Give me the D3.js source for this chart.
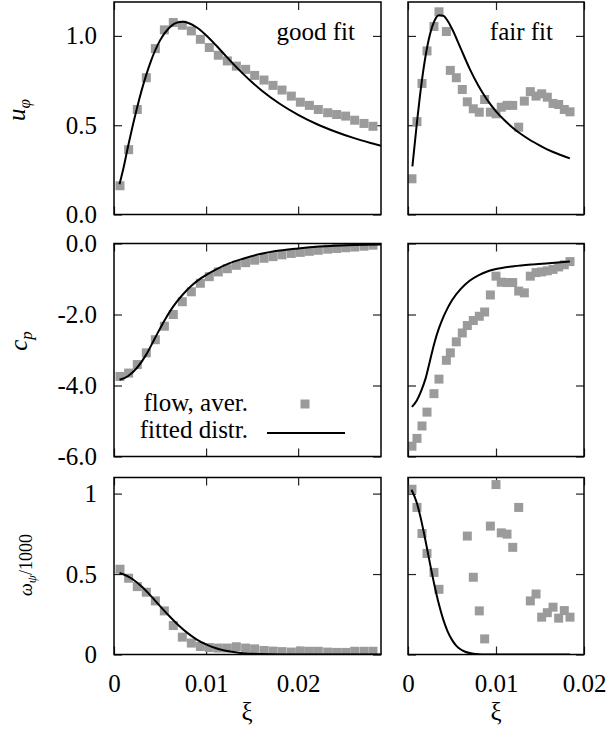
<!DOCTYPE html>
<html>
<head>
<meta charset="utf-8">
<script src="https://cdn.jsdelivr.net/npm/d3@7"></script>
</head>
<body style="margin:0; background:#fff">
<script>
// 점 데이터 x 좌표 (왼쪽 열 / 오른쪽 열)
var xi_left = [0.00065, 0.00159, 0.00253, 0.00351, 0.00449, 0.00547, 0.00644, 0.00742, 0.0084, 0.00938,
               0.01035, 0.01133, 0.01231, 0.01329, 0.0143, 0.01528, 0.01629, 0.01727, 0.01825, 0.01926,
               0.02024, 0.02122, 0.02219, 0.02321, 0.02418, 0.02516, 0.02614, 0.02715, 0.02813];
var xi_right = [0.00045, 0.00102, 0.00159, 0.00216, 0.00295, 0.00352, 0.00436, 0.00481, 0.00549, 0.00617,
                0.00674, 0.00742, 0.0081, 0.00871, 0.00936, 0.01, 0.0106, 0.01125, 0.0119, 0.01258,
                0.01322, 0.0139, 0.01455, 0.01519, 0.01583, 0.01648, 0.01712, 0.01776, 0.01841];

// u_phi
var good_u = [0.161, 0.363, 0.588, 0.766, 0.929, 1.034, 1.075, 1.06, 1.028, 0.981, 0.935, 0.892, 0.86, 0.831,
              0.813, 0.779, 0.753, 0.723, 0.697, 0.663, 0.629, 0.611, 0.588, 0.570, 0.560, 0.551, 0.528, 0.510, 0.494];
var fair_u = [0.20, 0.52, 0.734, 0.916, 1.053, 1.135, 1.025, 0.807, 0.766, 0.70, 0.631, 0.592, 0.573, 0.644,
              0.573, 0.564, 0.601, 0.611, 0.611, 0.489, 0.635, 0.688, 0.663, 0.676, 0.657, 0.622, 0.616, 0.588, 0.575];
var good_u_fit_x = [0.0006, 0.001, 0.0015, 0.002, 0.0025, 0.003, 0.004, 0.005, 0.006, 0.007, 0.0075, 0.008, 0.009,
                    0.010, 0.011, 0.012, 0.013, 0.014, 0.015, 0.016, 0.018, 0.020, 0.022, 0.024, 0.026, 0.028, 0.029];
var good_u_fit = [0.17, 0.253, 0.375, 0.49, 0.597, 0.695, 0.858, 0.975, 1.046, 1.077, 1.079, 1.074, 1.047,
                  1.004, 0.952, 0.896, 0.841, 0.789, 0.740, 0.696, 0.620, 0.558, 0.507, 0.465, 0.429, 0.399, 0.385];
var fair_u_fit_x = [0.0005, 0.001, 0.0015, 0.002, 0.0025, 0.003, 0.0035, 0.004, 0.0045, 0.005, 0.006, 0.007,
                    0.008, 0.009, 0.010, 0.011, 0.012, 0.013, 0.014, 0.015, 0.016, 0.017, 0.0184];
var fair_u_fit = [0.27, 0.507, 0.72, 0.889, 1.010, 1.084, 1.116, 1.113, 1.085, 1.040, 0.929, 0.817,
                  0.721, 0.642, 0.578, 0.526, 0.482, 0.445, 0.413, 0.386, 0.361, 0.340, 0.314];

// c_p
var good_cp = [-3.745, -3.65, -3.41, -3.08, -2.71, -2.33, -2.0, -1.64, -1.36, -1.12, -0.934, -0.80, -0.71, -0.614,
               -0.54, -0.47, -0.416, -0.37, -0.32, -0.28, -0.25, -0.22, -0.19, -0.16, -0.14, -0.12, -0.10, -0.076, -0.048];
var fair_cp = [-5.71, -5.49, -5.14, -4.75, -4.23, -3.82, -3.29, -3.08, -2.77, -2.52, -2.31, -2.17, -2.05, -1.93,
               -1.45, -0.92, -1.09, -1.10, -1.10, -1.34, -1.39, -0.92, -0.82, -0.80, -0.77, -0.73, -0.66, -0.60, -0.51];
var good_cp_fit_x = [0.0006, 0.0015, 0.0025, 0.0035, 0.0045, 0.0055, 0.0065, 0.0075, 0.0085, 0.0095, 0.011,
                     0.0125, 0.014, 0.016, 0.018, 0.020, 0.022, 0.024, 0.026, 0.029];
var good_cp_fit = [-3.84, -3.74, -3.5, -3.13, -2.64, -2.16, -1.75, -1.43, -1.17, -0.97, -0.74,
                   -0.56, -0.43, -0.29, -0.2, -0.14, -0.09, -0.065, -0.045, -0.025];
var fair_cp_fit_x = [0.00045, 0.001, 0.0015, 0.002, 0.0025, 0.003, 0.0035, 0.004, 0.0045, 0.005, 0.006, 0.007,
                     0.008, 0.009, 0.010, 0.012, 0.014, 0.016, 0.0184];
var fair_cp_fit = [-4.6, -4.42, -4.15, -3.8, -3.3, -2.8, -2.4, -2.08, -1.82, -1.6, -1.28, -1.05,
                   -0.9, -0.79, -0.72, -0.64, -0.59, -0.555, -0.51];

// omega_psi / 1000  (null = 그림 밖)
var good_w = [0.53, 0.474, 0.422, 0.387, 0.333, 0.271, 0.18, 0.108, 0.071, 0.05, 0.043, 0.04, 0.04, 0.048,
              0.04, 0.035, 0.025, 0.021, 0.018, 0.015, 0.022, 0.02, 0.02, 0.015, 0.013, 0.013, 0.02, 0.02, 0.02];
var fair_w = [1.027, 0.914, 0.752, 0.628, 0.51, 0.405, null, null, null, null, 0.736, 0.48, 0.271, 0.097,
              0.798, 1.056, 0.756, 0.748, 0.666, 0.914, null, 0.333, 0.376, 0.232, 0.26, 0.294, 0.226, 0.273, 0.232];
var good_w_fit_x = [0.0006, 0.001, 0.002, 0.003, 0.004, 0.005, 0.006, 0.007, 0.008, 0.009, 0.010, 0.011,
                    0.012, 0.013, 0.014, 0.015, 0.016, 0.018, 0.020, 0.024, 0.029];
var good_w_fit = [0.506, 0.499, 0.469, 0.422, 0.364, 0.301, 0.239, 0.182, 0.133, 0.093, 0.0625, 0.040,
                  0.025, 0.015, 0.008, 0.0045, 0.0024, 0.0006, 0.0001, 0, 0];
var fair_w_fit_x = [0.0004, 0.001, 0.0015, 0.002, 0.0025, 0.003, 0.0035, 0.004, 0.0045, 0.005, 0.0055, 0.006,
                    0.0065, 0.007, 0.008, 0.009, 0.010, 0.0184];
var fair_w_fit = [1.024, 0.943, 0.835, 0.704, 0.565, 0.432, 0.315, 0.218, 0.144, 0.091, 0.054, 0.031,
                  0.017, 0.009, 0.002, 0.0004, 0, 0];

var ticks_x = [0, 0.01, 0.02];
var ticks_u = [0, 0.5, 1.0];
var ticks_cp = [0, -2, -4, -6];
var ticks_w = [0, 0.5, 1];

var GRAY = "#9b9b9b";
var FONT = "Liberation Serif";
var svg = d3.select("body").append("svg").attr("width", 608).attr("height", 734)
    .attr("font-family", FONT);
var clip_n = 0;

function fmt1(d){ return d3.format(".1f")(d).replace("\u2212", "-"); }
function fmtw(d){ return d === 0 ? "0" : d === 1 ? "1" : String(d); }

// 패널 하나 만들기
function make_panel(x0, x1, y0, y1, xdom, ydom, yticks, yfmt, showY, showX){
    var xs = d3.scaleLinear().domain(xdom).range([x0, x1]);
    var ys = d3.scaleLinear().domain(ydom).range([y1, y0]);
    var g = svg.append("g");

    g.append("g").attr("transform", "translate(0," + y1 + ")")
        .call(d3.axisBottom(xs).tickValues(ticks_x).tickSize(-8).tickPadding(20)
              .tickFormat(showX ? function(d){ return d === 0 ? "0" : String(d); } : ""));
    g.append("g").attr("transform", "translate(0," + y0 + ")")
        .call(d3.axisTop(xs).tickValues(ticks_x).tickSize(-8).tickFormat(""));
    g.append("g").attr("transform", "translate(" + x0 + ",0)")
        .call(d3.axisLeft(ys).tickValues(yticks).tickSize(-8).tickPadding(17)
              .tickFormat(showY ? yfmt : ""));
    g.append("g").attr("transform", "translate(" + x1 + ",0)")
        .call(d3.axisRight(ys).tickValues(yticks).tickSize(-8).tickFormat(""));

    g.selectAll(".domain").remove();
    g.selectAll("g").attr("font-family", FONT).attr("font-size", 25);
    g.selectAll(".tick line").attr("stroke", "#222").attr("stroke-width", 1.2);
    g.selectAll(".tick text").attr("fill", "#000");

    clip_n++;
    var cid = "clip" + clip_n;
    g.append("clipPath").attr("id", cid).append("rect")
        .attr("x", x0).attr("y", y0).attr("width", x1 - x0).attr("height", y1 - y0);
    var plot = g.append("g").attr("clip-path", "url(#" + cid + ")");

    g.append("rect").attr("x", x0).attr("y", y0)
        .attr("width", x1 - x0).attr("height", y1 - y0)
        .attr("fill", "none").attr("stroke", "#000").attr("stroke-width", 1.5);

    return { g: g, plot: plot, xs: xs, ys: ys };
}

function add_points(p, xarr, yarr){
    var pts = xarr.map(function(x, i){ return { x: x, y: yarr[i] }; })
                  .filter(function(d){ return d.y !== null; });
    p.plot.selectAll("rect.pt").data(pts).enter().append("rect")
        .attr("class", "pt")
        .attr("x", function(d){ return p.xs(d.x) - 4.5; })
        .attr("y", function(d){ return p.ys(d.y) - 4.5; })
        .attr("width", 9).attr("height", 9)
        .attr("fill", GRAY);
}

function add_line(p, xarr, yarr){
    var pts = xarr.map(function(x, i){ return [x, yarr[i]]; });
    var line = d3.line()
        .x(function(d){ return p.xs(d[0]); })
        .y(function(d){ return p.ys(d[1]); })
        .curve(d3.curveMonotoneX);
    p.plot.append("path").datum(pts).attr("d", line)
        .attr("fill", "none").attr("stroke", "#000").attr("stroke-width", 2);
}

var L = [114, 381], R = [408, 584];
var rows = [[2, 214.5], [243.5, 456.5], [477.5, 654.5]];
var dom_l = [0, 0.029], dom_r = [0, 0.02];

// 1행 u_phi
var p11 = make_panel(L[0], L[1], rows[0][0], rows[0][1], dom_l, [0, 1.19], ticks_u, fmt1, true, false);
add_points(p11, xi_left, good_u); add_line(p11, good_u_fit_x, good_u_fit);
var p12 = make_panel(R[0], R[1], rows[0][0], rows[0][1], dom_r, [0, 1.19], ticks_u, fmt1, false, false);
add_points(p12, xi_right, fair_u); add_line(p12, fair_u_fit_x, fair_u_fit);

// 2행 c_p
var p21 = make_panel(L[0], L[1], rows[1][0], rows[1][1], dom_l, [-6, 0], ticks_cp, fmt1, true, false);
add_points(p21, xi_left, good_cp); add_line(p21, good_cp_fit_x, good_cp_fit);
var p22 = make_panel(R[0], R[1], rows[1][0], rows[1][1], dom_r, [-6, 0], ticks_cp, fmt1, false, false);
add_points(p22, xi_right, fair_cp); add_line(p22, fair_cp_fit_x, fair_cp_fit);

// 3행 omega
var p31 = make_panel(L[0], L[1], rows[2][0], rows[2][1], dom_l, [0, 1.1], ticks_w, fmtw, true, true);
add_points(p31, xi_left, good_w); add_line(p31, good_w_fit_x, good_w_fit);
var p32 = make_panel(R[0], R[1], rows[2][0], rows[2][1], dom_r, [0, 1.1], ticks_w, fmtw, false, true);
add_points(p32, xi_right, fair_w); add_line(p32, fair_w_fit_x, fair_w_fit);

function label(x, y, anchor, size, str){
    return svg.append("text").attr("x", x).attr("y", y).attr("text-anchor", anchor)
        .attr("font-family", FONT).attr("font-size", size).text(str);
}

// 제목 텍스트
label(355, 40, "end", 25, "good fit");
label(553, 40, "end", 25, "fair fit");

// 범례
label(248, 411, "end", 25, "flow, aver.");
svg.append("rect").attr("x", 305 - 4.5).attr("y", 404 - 4.5).attr("width", 9).attr("height", 9).attr("fill", GRAY);
label(248, 438, "end", 25, "fitted distr.");
svg.append("line").attr("x1", 267).attr("x2", 345).attr("y1", 433).attr("y2", 433)
    .attr("stroke", "#000").attr("stroke-width", 2);

// 축 제목
var lu = svg.append("text").attr("transform", "translate(25,110) rotate(-90)")
    .attr("text-anchor", "middle").attr("font-family", FONT).attr("font-size", 25);
lu.append("tspan").attr("font-style", "italic").text("u");
lu.append("tspan").attr("dy", 5).attr("font-size", 17).attr("font-style", "italic").text("φ");

var lc = svg.append("text").attr("transform", "translate(27,341) rotate(-90)")
    .attr("text-anchor", "middle").attr("font-family", FONT).attr("font-size", 25);
lc.append("tspan").attr("font-style", "italic").text("c");
lc.append("tspan").attr("dy", 5).attr("font-size", 17).attr("font-style", "italic").text("p");

var lw = svg.append("text").attr("transform", "translate(32,565) rotate(-90)")
    .attr("text-anchor", "middle").attr("font-family", FONT).attr("font-size", 18);
lw.append("tspan").attr("font-style", "italic").text("ω");
lw.append("tspan").attr("dy", 4).attr("font-size", 13).attr("font-style", "italic").text("ψ");
lw.append("tspan").attr("dy", -4).text("/1000");

label(247, 720, "middle", 25, "ξ");
label(496, 720, "middle", 25, "ξ");
</script>
</body>
</html>
